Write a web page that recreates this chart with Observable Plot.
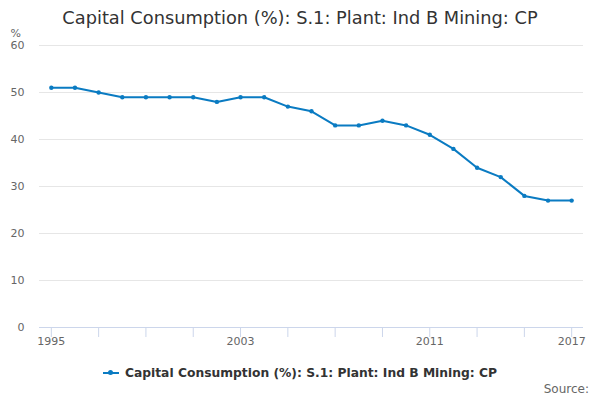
<!DOCTYPE html>
<html>
<head>
<meta charset="utf-8">
<script src="https://cdn.jsdelivr.net/npm/d3@7"></script>
<script src="https://cdn.jsdelivr.net/npm/@observablehq/plot@0.6"></script>
<style>
  body { margin: 0; background: #fff; font-family: "DejaVu Sans", sans-serif; }
  #wrap { width: 600px; height: 400px; position: relative; overflow: hidden; }
  #title { position: absolute; top: 8px; left: 0; width: 600px; height: 20px; line-height: 20px; font-size: 17.8px; color: #333; text-align: center; white-space: nowrap; z-index: 2; }
  #chart { padding-top: 18px; }
  #legend { position: absolute; left: 0; width: 600px; top: 364px; height: 18px; display: flex; justify-content: center; align-items: center; font-size: 12.3px; font-weight: bold; color: #333; }
  .sym { position: relative; width: 16px; height: 2px; background: #0a7bc2; margin-right: 6px; }
  .sym::after { content: ""; position: absolute; left: 5.5px; top: -2px; width: 5px; height: 5px; border-radius: 50%; background: #0a7bc2; }
  #source { position: absolute; right: 11px; top: 382px; font-size: 12px; color: #666; }
</style>
</head>
<body>
<div id="wrap">
  <div id="title">Capital Consumption (%): S.1: Plant: Ind B Mining: CP</div>
  <div id="chart"></div>
  <div id="legend"><span class="sym"></span><span>Capital Consumption (%): S.1: Plant: Ind B Mining: CP</span></div>
  <div id="source">Source:</div>
</div>
<script>
const years = [1995, 1996, 1997, 1998, 1999, 2000, 2001, 2002, 2003, 2004, 2005, 2006, 2007, 2008, 2009, 2010, 2011, 2012, 2013, 2014, 2015, 2016, 2017];
const values = [51, 51, 50, 49, 49, 49, 49, 48, 49, 49, 47, 46, 43, 43, 44, 43, 41, 38, 34, 32, 28, 27, 27];
const yTicks = [0, 10, 20, 30, 40, 50, 60];
const xTickYears = [1995, 1997, 1999, 2001, 2003, 2005, 2007, 2009, 2011, 2013, 2015, 2017];
const xLabelYears = [1995, 2003, 2011, 2017];

const data = years.map((y, i) => ({year: y, value: values[i]}));
const color = "#0a7bc2";

const chart = Plot.plot({
  width: 600,
  height: 337,
  marginTop: 27,
  marginBottom: 28,
  marginLeft: 39,
  marginRight: 17,
  style: {fontFamily: "DejaVu Sans, sans-serif", fontSize: "11px", color: "#666", background: "transparent"},
  x: {domain: [1994.5, 2017.5]},
  y: {domain: [0, 60]},
  marks: [
    Plot.gridY(yTicks, {stroke: "#e6e6e6", strokeOpacity: 1}),
    Plot.ruleY([0], {stroke: "#ccd6eb"}),
    Plot.axisY({ticks: yTicks, tickSize: 0, tickPadding: 15, label: null, fill: "#666"}),
    Plot.axisX({ticks: xTickYears, tickSize: 10, tickFormat: () => "", stroke: "#ccd6eb", strokeOpacity: 1, label: null}),
    Plot.axisX({ticks: xLabelYears, tickSize: 0, tickPadding: 10, tickFormat: d => String(d), label: null, fill: "#666"}),
    Plot.text(["%"], {frameAnchor: "top-left", dx: -29, dy: -16, fill: "#666", fontSize: 11, textAnchor: "start"}),
    Plot.line(data, {x: "year", y: "value", stroke: color, strokeWidth: 2}),
    Plot.dot(data, {x: "year", y: "value", fill: color, r: 2.2})
  ]
});
document.getElementById("chart").appendChild(chart);
</script>
</body>
</html>
